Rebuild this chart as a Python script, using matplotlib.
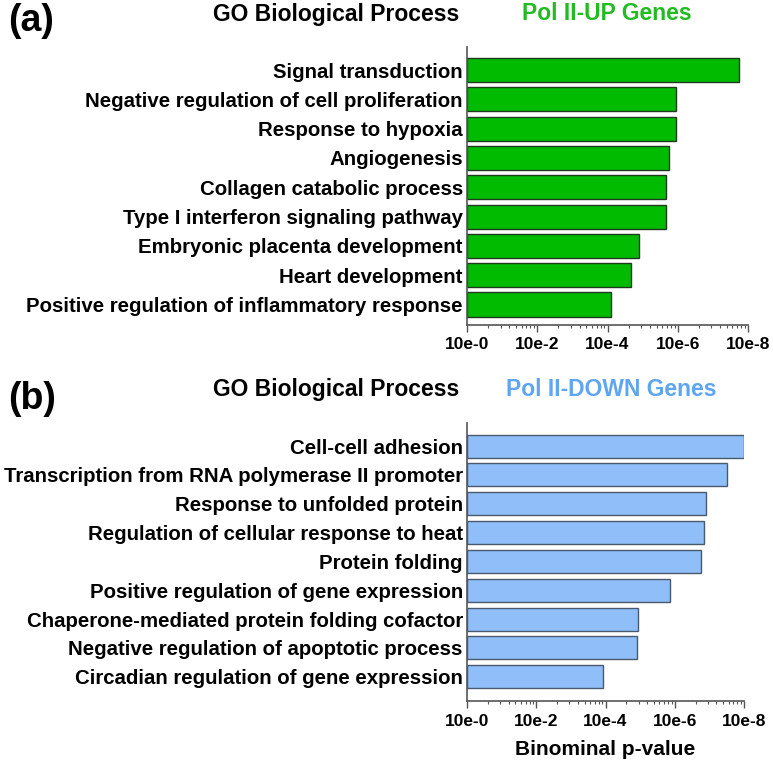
import numpy as np
import matplotlib
matplotlib.use('Agg')
import matplotlib.pyplot as plt

plt.rcParams['font.family'] = ['Liberation Sans', 'DejaVu Sans']
plt.rcParams['font.weight'] = 'bold'

# -log10(p) values
up_terms = ['Signal transduction',
            'Negative regulation of cell proliferation',
            'Response to hypoxia',
            'Angiogenesis',
            'Collagen catabolic process',
            'Type I interferon signaling pathway',
            'Embryonic placenta development',
            'Heart development',
            'Positive regulation of inflammatory response']
up_vals = [7.75, 5.95, 5.95, 5.76, 5.66, 5.66, 4.89, 4.66, 4.09]

down_terms = ['Cell-cell adhesion',
              'Transcription from RNA polymerase II promoter',
              'Response to unfolded protein',
              'Regulation of cellular response to heat',
              'Protein folding',
              'Positive regulation of gene expression',
              'Chaperone-mediated protein folding cofactor',
              'Negative regulation of apoptotic process',
              'Circadian regulation of gene expression']
down_vals = [8.0, 7.51, 6.90, 6.84, 6.75, 5.85, 4.93, 4.91, 3.93]

xtick_pos = [0, 2, 4, 6, 8]
xtick_labels = ['10e-0', '10e-2', '10e-4', '10e-6', '10e-8']

W, H = 773, 762
fig = plt.figure(figsize=(W / 100, H / 100), dpi=100)


def px_axes(x0, x1, y0, y1):
    return fig.add_axes([x0 / W, (H - y1) / H, (x1 - x0) / W, (y1 - y0) / H])


def draw_panel(ax, terms, vals, color, edge, hgt, ylo, yhi):
    y = np.arange(len(terms))
    ax.barh(y, vals, height=hgt, color=color, edgecolor=edge, linewidth=1.0)
    ax.set_ylim(len(terms) - 1 + ylo, -yhi)
    ax.set_xlim(0, 8)
    ax.set_yticks(y)
    ax.set_yticklabels(terms, fontsize=14.7, fontweight='bold')
    ax.tick_params(axis='y', length=0, pad=3)
    ax.set_xticks(xtick_pos)
    ax.set_xticklabels(xtick_labels, fontsize=12.5, fontweight='bold')
    # prism-style log minor ticks, one "decade" per 2 units
    minors = [2 * n + 2 * np.log10(k) for n in range(4) for k in range(2, 10)]
    ax.set_xticks(minors, minor=True)
    ax.tick_params(axis='x', which='major', length=5, width=1, color='#555555', pad=4)
    ax.tick_params(axis='x', which='minor', length=2.5, width=0.8, color='#555555')
    for s in ['top', 'right']:
        ax.spines[s].set_visible(False)
    for s in ['left', 'bottom']:
        ax.spines[s].set_color('#555555')
        ax.spines[s].set_linewidth(1.2)


ax1 = px_axes(467, 748, 47, 325)
draw_panel(ax1, up_terms, up_vals, '#00BB00', '#1F3A1F', 0.82, 0.7, 0.785)

ax2 = px_axes(467, 744, 423, 701)
draw_panel(ax2, down_terms, down_vals, '#8FBEF8', '#4A5A6E', 0.8, 0.84, 0.8)
ax2.set_xlabel('Binominal p-value', fontsize=15, fontweight='bold', labelpad=8)

fig.text(8 / W, 1 - 21 / H, '(a)', fontsize=27, fontweight='bold', va='center', ha='left')
fig.text(8 / W, 1 - 399 / H, '(b)', fontsize=27, fontweight='bold', va='center', ha='left')

fig.text(336 / W, 1 - 14 / H, 'GO Biological Process', fontsize=16.5, fontweight='bold',
         va='center', ha='center')
fig.text(607 / W, 1 - 14 / H, 'Pol II-UP Genes', fontsize=16.5, fontweight='bold',
         va='center', ha='center', color='#22BB22')
fig.text(336 / W, 1 - 389 / H, 'GO Biological Process', fontsize=16.5, fontweight='bold',
         va='center', ha='center')
fig.text(611 / W, 1 - 389 / H, 'Pol II-DOWN Genes', fontsize=16.5, fontweight='bold',
         va='center', ha='center', color='#5FA5F0')

fig.savefig('out.png', dpi=100)
